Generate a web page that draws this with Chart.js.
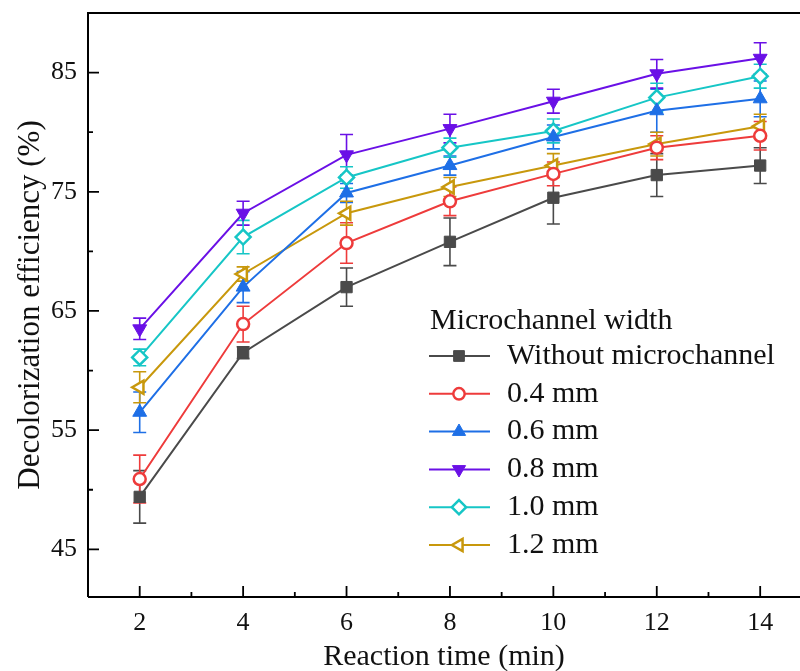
<!DOCTYPE html>
<html>
<head>
    <title>Decolorization efficiency</title>
    <script src="https://cdn.jsdelivr.net/npm/chart.js"></script>
    <style>
        body {
            margin: 0;
            background: #fff;
        }
        #wrap {
            width: 800px;
            height: 671px;
        }
    </style>
</head>
<body>
    <div id="wrap"><canvas id="chart" width="800" height="671"></canvas></div>

    <script>
        // data
        const times = [2, 4, 6, 8, 10, 12, 14];
        const withoutMc = [49.4, 61.5, 67.0, 70.8, 74.5, 76.4, 77.2];
        const w04 = [50.9, 63.9, 70.7, 74.2, 76.5, 78.7, 79.7];
        const w06 = [56.5, 67.0, 74.9, 77.2, 79.6, 81.8, 82.8];
        const w08 = [63.5, 73.2, 78.1, 80.3, 82.6, 84.9, 86.2];
        const w10 = [61.1, 71.2, 76.2, 78.7, 80.1, 82.9, 84.7];
        const w12 = [58.6, 68.1, 73.2, 75.4, 77.2, 79.0, 80.5];

        // error bar half-lengths
        const errWithout = [2.2, 0.5, 1.6, 2.0, 2.2, 1.8, 1.5];
        const err04 = [2.0, 1.5, 1.7, 1.2, 1.0, 1.0, 1.2];
        const err06 = [1.7, 1.3, 0.8, 0.8, 1.0, 1.8, 1.5];
        const err08 = [0.9, 1.0, 1.7, 1.2, 1.0, 1.2, 1.3];
        const err10 = [0.7, 1.4, 0.9, 0.8, 1.0, 1.2, 1.0];
        const err12 = [1.3, 0.6, 1.0, 0.8, 1.0, 1.0, 1.0];

        const seriesNames = ['Without microchannel', '0.4 mm', '0.6 mm', '0.8 mm', '1.0 mm', '1.2 mm'];
        const xTicks = [2, 4, 6, 8, 10, 12, 14];
        const xMinor = [3, 5, 7, 9, 11, 13];
        const yTicks = [45, 55, 65, 75, 85];
        const yMinor = [50, 60, 70, 80];

        const FONT = "'Liberation Serif', 'Times New Roman', serif";

        function makeSet(label, vals, errs, color, style, rot, radius, open) {
            return {
                label: label,
                data: times.map((t, i) => ({ x: t, y: vals[i] })),
                errors: errs,
                borderColor: color,
                backgroundColor: color,
                borderWidth: 2,
                pointStyle: style,
                pointRotation: rot,
                pointRadius: radius,
                pointHoverRadius: radius,
                pointBorderWidth: open ? 2.5 : 1,
                pointBackgroundColor: open ? '#fff' : color,
                pointBorderColor: color,
                tension: 0
            };
        }

        const datasets = [
            makeSet(seriesNames[0], withoutMc, errWithout, '#4a4a4a', 'rect', 0, 8, false),
            makeSet(seriesNames[1], w04, err04, '#ee3b3b', 'circle', 0, 6, true),
            makeSet(seriesNames[2], w06, err06, '#1e6fe6', 'triangle', 0, 8, false),
            makeSet(seriesNames[3], w08, err08, '#6a10e6', 'triangle', 180, 8, false),
            makeSet(seriesNames[4], w10, err10, '#16c6c6', 'rectRot', 0, 7.5, true),
            makeSet(seriesNames[5], w12, err12, '#c8980c', 'triangle', 270, 7.5, true)
        ];

        // error bars, drawn under the markers
        const errorBars = {
            id: 'errorBars',
            beforeDatasetsDraw(chart) {
                const ctx = chart.ctx;
                const xs = chart.scales.x, ys = chart.scales.y;
                chart.data.datasets.forEach(ds => {
                    ctx.save();
                    ctx.strokeStyle = ds.borderColor;
                    ctx.lineWidth = 1.6;
                    ds.data.forEach((p, i) => {
                        const e = ds.errors[i];
                        const px = xs.getPixelForValue(p.x);
                        const top = ys.getPixelForValue(p.y + e);
                        const bot = ys.getPixelForValue(p.y - e);
                        ctx.beginPath();
                        ctx.moveTo(px, top); ctx.lineTo(px, bot);
                        ctx.moveTo(px - 6.5, top); ctx.lineTo(px + 6.5, top);
                        ctx.moveTo(px - 6.5, bot); ctx.lineTo(px + 6.5, bot);
                        ctx.stroke();
                    });
                    ctx.restore();
                });
            }
        };

        // frame and inward ticks
        const frame = {
            id: 'frame',
            afterDraw(chart) {
                const ctx = chart.ctx;
                const a = chart.chartArea;
                const xs = chart.scales.x, ys = chart.scales.y;
                ctx.save();
                ctx.strokeStyle = '#000';
                ctx.lineWidth = 2;
                ctx.beginPath();
                ctx.moveTo(a.left, a.bottom); ctx.lineTo(a.left, a.top); ctx.lineTo(a.right, a.top);
                ctx.moveTo(a.left, a.bottom); ctx.lineTo(a.right, a.bottom);
                ctx.stroke();
                ctx.lineWidth = 1.8;
                ctx.beginPath();
                xTicks.forEach(v => { const p = xs.getPixelForValue(v); ctx.moveTo(p, a.bottom); ctx.lineTo(p, a.bottom - 11); });
                xMinor.forEach(v => { const p = xs.getPixelForValue(v); ctx.moveTo(p, a.bottom); ctx.lineTo(p, a.bottom - 5); });
                yTicks.forEach(v => { const p = ys.getPixelForValue(v); ctx.moveTo(a.left, p); ctx.lineTo(a.left + 11, p); });
                yMinor.forEach(v => { const p = ys.getPixelForValue(v); ctx.moveTo(a.left, p); ctx.lineTo(a.left + 5, p); });
                ctx.stroke();
                ctx.restore();
            }
        };

        // legend inside the plot
        const legendBox = {
            id: 'legendBox',
            afterDraw(chart) {
                const ctx = chart.ctx;
                ctx.save();
                ctx.font = '30px ' + FONT;
                ctx.fillStyle = '#111';
                ctx.textBaseline = 'middle';
                ctx.textAlign = 'left';
                ctx.fillText('Microchannel width', 430, 321);
                chart.data.datasets.forEach((ds, i) => {
                    const y = 356 + i * 37.8;
                    ctx.strokeStyle = ds.borderColor;
                    ctx.lineWidth = 2;
                    ctx.beginPath();
                    ctx.moveTo(429, y); ctx.lineTo(490, y);
                    ctx.stroke();
                    ctx.fillStyle = ds.pointBackgroundColor;
                    ctx.strokeStyle = ds.pointBorderColor;
                    ctx.lineWidth = ds.pointBorderWidth;
                    Chart.helpers.drawPoint(ctx, {
                        pointStyle: ds.pointStyle,
                        rotation: ds.pointRotation,
                        radius: ds.pointRadius * 0.95,
                        borderWidth: ds.pointBorderWidth
                    }, 459, y);
                    ctx.fillStyle = '#111';
                    ctx.fillText(ds.label, 507, y);
                });
                ctx.restore();
            }
        };

        new Chart(document.getElementById('chart'), {
            type: 'line',
            data: { datasets: datasets },
            options: {
                responsive: false,
                animation: false,
                layout: { autoPadding: false, padding: { top: 13, right: 0, left: 0, bottom: 0 } },
                plugins: {
                    legend: { display: false },
                    tooltip: { enabled: false }
                },
                scales: {
                    x: {
                        type: 'linear',
                        min: 1,
                        max: 14.77,
                        grid: { display: false, drawTicks: false },
                        border: { display: false },
                        afterBuildTicks: s => { s.ticks = xTicks.map(v => ({ value: v })); },
                        afterFit: s => { s.height = 74; s.paddingLeft = 0; s.paddingRight = 0; },
                        ticks: { color: '#111', padding: 11, font: { family: FONT, size: 26 } },
                        title: {
                            display: true,
                            text: 'Reaction time (min)',
                            color: '#111',
                            font: { family: FONT, size: 30, lineHeight: 0.9 },
                            padding: 0
                        }
                    },
                    y: {
                        min: 41,
                        max: 90,
                        grid: { display: false, drawTicks: false },
                        border: { display: false },
                        afterBuildTicks: s => { s.ticks = yTicks.map(v => ({ value: v })); },
                        afterFit: s => { s.width = 88; s.paddingTop = 0; s.paddingBottom = 0; },
                        ticks: { color: '#111', padding: 11, font: { family: FONT, size: 26 } },
                        title: {
                            display: true,
                            text: 'Decolorization efficiency (%)',
                            color: '#111',
                            font: { family: FONT, size: 31, lineHeight: 1.2 },
                            padding: { top: 12, bottom: 0 }
                        }
                    }
                }
            },
            plugins: [errorBars, frame, legendBox]
        });
    </script>
</body>
</html>
